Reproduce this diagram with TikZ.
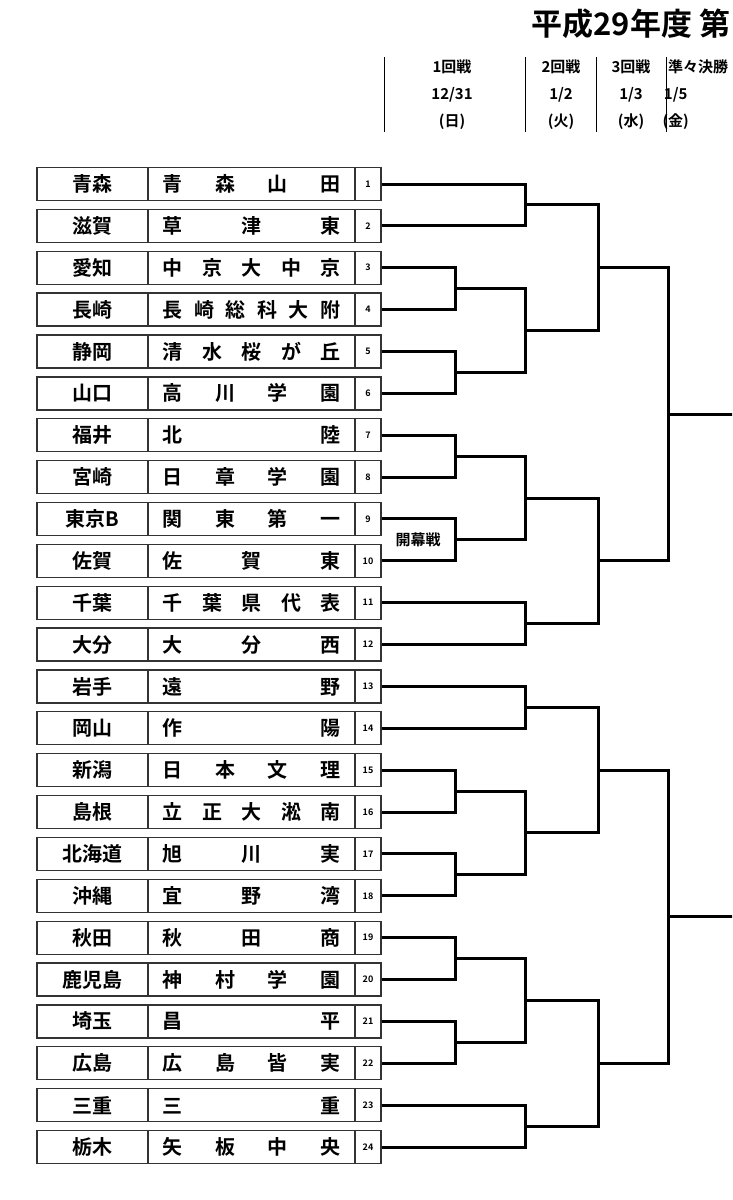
\documentclass[tikz,border=0pt]{standalone}
\usepackage{fontspec}
\setmainfont{Noto Sans CJK JP}[BoldFont={* Bold}]
\usetikzlibrary{calc,positioning}
\tikzset{
  box/.style={draw=black!80,line width=1.3pt,minimum height=33pt,inner sep=0pt,font=\bfseries\fontsize{20}{20}\selectfont},
  bk/.style={line width=3pt,line join=miter},
  hd/.style={font=\bfseries\fontsize{15}{27}\selectfont,align=center}
}
% one bracket: from #1 and #2 to column #3, winner point #4
\newcommand{\match}[4]{%
  \draw[bk] (#1) -- (#1 -| #3) -- (#2 -| #3) -- (#2);
  \coordinate (#4) at ($(#1 -| #3)!.5!(#2 -| #3)$);}
\begin{document}
\begin{tikzpicture}[x=1pt,y=-1pt]
\useasboundingbox (0,0) rectangle (732,1200);
\clip (0,0) rectangle (732,1200);
% title and header
\node[anchor=west,font=\bfseries\fontsize{31}{31}\selectfont] (title) at (528,24) {平成29年度 第};
\foreach \x in {384,525,596,666}
  \draw[line width=1pt] (\x,57) -- (\x,132);
\node[hd] (r1) at (452,95) {1回戦\\12/31\\(日)};
\node[hd] (r2) at (561,95) {2回戦\\1/2\\(火)};
\node[hd] (r3) at (631,95) {3回戦\\1/3\\(水)};
\node[hd,anchor=west,inner sep=1pt] (r4) at (667,95) {準々決勝\\\hspace*{-3em}1/5\\\hspace*{-3em}(金)};
% columns
\coordinate (xa) at (455,0);
\coordinate (xb) at (525,0);
\coordinate (xc) at (598,0);
\coordinate (xd) at (668,0);
\coordinate (xe) at (745,0);
% teams
\foreach \k/\p/\s in {
  1/青森/{青\hfill 森\hfill 山\hfill 田},
  2/滋賀/{草\hfill 津\hfill 東},
  3/愛知/{中\hfill 京\hfill 大\hfill 中\hfill 京},
  4/長崎/{長\hfill 崎\hfill 総\hfill 科\hfill 大\hfill 附},
  5/静岡/{清\hfill 水\hfill 桜\hfill が\hfill 丘},
  6/山口/{高\hfill 川\hfill 学\hfill 園},
  7/福井/{北\hfill 陸},
  8/宮崎/{日\hfill 章\hfill 学\hfill 園},
  9/東京B/{関\hfill 東\hfill 第\hfill 一},
  10/佐賀/{佐\hfill 賀\hfill 東},
  11/千葉/{千\hfill 葉\hfill 県\hfill 代\hfill 表},
  12/大分/{大\hfill 分\hfill 西},
  13/岩手/{遠\hfill 野},
  14/岡山/{作\hfill 陽},
  15/新潟/{日\hfill 本\hfill 文\hfill 理},
  16/島根/{立\hfill 正\hfill 大\hfill 淞\hfill 南},
  17/北海道/{旭\hfill 川\hfill 実},
  18/沖縄/{宜\hfill 野\hfill 湾},
  19/秋田/{秋\hfill 田\hfill 商},
  20/鹿児島/{神\hfill 村\hfill 学\hfill 園},
  21/埼玉/{昌\hfill 平},
  22/広島/{広\hfill 島\hfill 皆\hfill 実},
  23/三重/{三\hfill 重},
  24/栃木/{矢\hfill 板\hfill 中\hfill 央}} {
  \pgfmathsetmacro{\yy}{184+(\k-1)*41.87}
  \node[box,minimum width=111pt] (p\k) at (92.5,\yy) {\p};
  \node[box,minimum width=207pt] (s\k) at (251.5,\yy) {\makebox[178pt][s]{\s}};
  \node[box,minimum width=26pt,font=\bfseries\fontsize{9}{9}\selectfont] (n\k) at (368,\yy) {\k};
}
% first half
\match{n1.east}{n2.east}{xb}{w12}
\match{n3.east}{n4.east}{xa}{w34}
\match{n5.east}{n6.east}{xa}{w56}
\match{w34}{w56}{xb}{w36}
\match{w12}{w36}{xc}{w16}
\match{n7.east}{n8.east}{xa}{w78}
\match{n9.east}{n10.east}{xa}{w910}
\match{w78}{w910}{xb}{w710}
\match{n11.east}{n12.east}{xb}{w1112}
\match{w710}{w1112}{xc}{w712}
\match{w16}{w712}{xd}{wtop}
\draw[bk] (wtop) -- (wtop -| xe);
\node[font=\bfseries\fontsize{15}{15}\selectfont,fill=white,inner sep=1pt] (op) at (418,540) {開幕戦};
% second half
\match{n13.east}{n14.east}{xb}{w1314}
\match{n15.east}{n16.east}{xa}{w1516}
\match{n17.east}{n18.east}{xa}{w1718}
\match{w1516}{w1718}{xb}{w1518}
\match{w1314}{w1518}{xc}{w1318}
\match{n19.east}{n20.east}{xa}{w1920}
\match{n21.east}{n22.east}{xa}{w2122}
\match{w1920}{w2122}{xb}{w1922}
\match{n23.east}{n24.east}{xb}{w2324}
\match{w1922}{w2324}{xc}{w1924}
\match{w1318}{w1924}{xd}{wbot}
\draw[bk] (wbot) -- (wbot -| xe);
\end{tikzpicture}
\end{document}
